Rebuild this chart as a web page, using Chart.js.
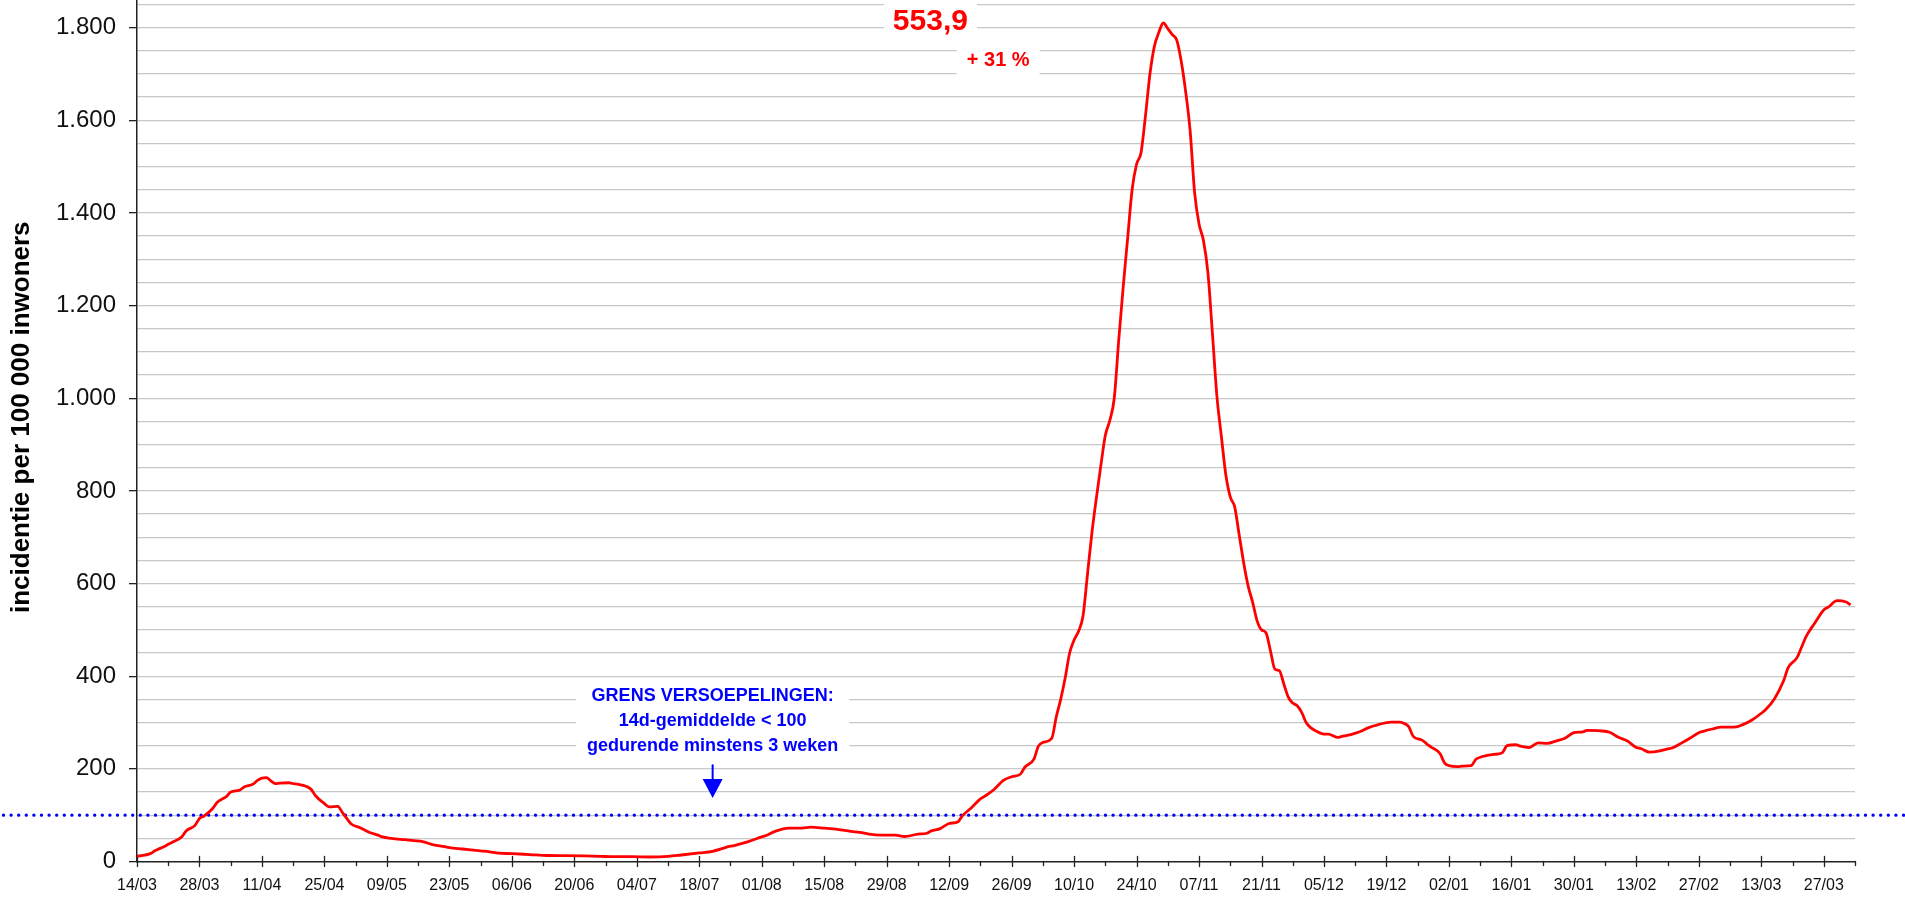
<!DOCTYPE html>
<html>
<head>
<meta charset="utf-8">
<script src="https://cdn.jsdelivr.net/npm/chart.js@4/dist/chart.umd.min.js"></script>
<style>
  html, body { margin: 0; padding: 0; background: #fff; overflow: hidden; }
  #wrap { position: absolute; left: 0; top: -30px; width: 1905px; height: 928px; }
</style>
</head>
<body>
<div id="wrap"><canvas id="incidenceChart"></canvas></div>
<script>
// days since 14/03/2020 and the 14-day incidence per 100 000 read at those days
const days = [0, 3, 4, 6, 7, 8, 10, 11, 13, 14, 15, 17, 18, 20, 21, 23, 24, 26, 27, 28, 29, 30, 31, 32, 34, 35, 36, 38, 39, 40,
    42, 43, 45, 46, 47, 48, 50, 52, 54, 55, 57, 60, 62, 64, 66, 69, 70, 73, 77, 79, 81, 84, 88, 92, 96, 100, 104, 107, 111, 115,
    119, 122, 126, 129, 132, 134, 137, 140, 141, 143, 146, 149, 151, 154, 157, 160, 162, 164, 167, 170, 172, 175, 177, 178, 180,
    182, 184, 185, 187, 189, 190, 192, 194, 196, 198, 199, 201, 202, 203, 205, 206, 207, 208, 209, 210, 211, 212, 213, 214, 215,
    216, 217, 218, 219, 220, 221, 222, 223, 224, 225, 226, 227, 228, 229, 230, 231, 232, 233, 234, 235, 236, 237, 238, 239, 240,
    241, 242, 243, 244, 245, 246, 247, 248, 249, 250, 251, 252, 253, 254, 255, 256, 257, 258, 259, 260, 261, 262, 263, 264, 266,
    267, 269, 270, 272, 274, 276, 278, 281, 283, 284, 285, 286, 288, 289, 290, 292, 293, 294, 296, 297, 299, 300, 301, 304, 306,
    307, 309, 310, 312, 314, 316, 318, 320, 322, 324, 325, 328, 330, 332, 334, 336, 337, 339, 341, 343, 344, 346, 348, 350, 351,
    353, 355, 358, 360, 362, 364, 365, 367, 369, 370, 372, 373, 374, 376, 378, 379, 381, 383, 384];
const incidence = [11, 17, 23, 32, 37, 42, 53, 66, 78, 93, 98, 115, 128, 140, 150, 154, 161, 167, 175, 180, 181, 174, 168, 169, 170, 168, 167, 162, 156, 142,
    125, 118, 119, 106, 93, 81, 73, 63, 57, 53, 50, 47, 45, 43, 37, 32, 30, 27, 23, 21, 18, 17, 15, 13, 12.6, 12, 11, 10.4, 10.4, 9.7,
    11, 14, 18.4, 22, 30.6, 35, 43, 53, 56, 65, 72, 72, 74, 72, 69.5, 65, 63, 59, 57, 57, 54, 59, 61, 66, 71,
    82, 86, 99, 116, 135, 141, 155, 174, 183, 189, 204, 221, 249, 257, 266, 312, 350, 396, 450, 478, 497, 530, 620, 710, 785,
    855, 920, 952, 1000, 1125, 1240, 1345, 1450, 1505, 1530, 1610, 1700, 1760, 1790, 1810, 1798, 1785, 1773, 1728, 1662, 1578, 1445, 1376, 1340, 1270,
    1140, 1005, 918, 835, 787, 765, 705, 645, 595, 560, 520, 500, 494, 455, 415, 412, 383, 355, 342, 336, 322, 300, 289, 283, 275,
    275, 268, 270, 274, 280, 289, 295, 301, 301, 298, 291, 270, 262, 254, 247, 233, 213, 207, 205, 206, 207, 220, 225, 231, 235,
    250, 252, 249, 246, 256, 255, 260, 266, 278, 280, 283, 282, 279, 268, 260, 246, 244, 236, 238, 243, 245, 255, 266, 278, 281,
    286, 290, 290, 296, 306, 320, 328, 352, 390, 418, 440, 462, 485, 515, 543, 549, 563, 560, 553.9];

const threshold = 100;
const lastValueText = '553,9';
const weekChangeText = '+ 31 %';
const thresholdNote = ['GRENS VERSOEPELINGEN:', '14d-gemiddelde < 100', 'gedurende minstens 3 weken'];
const yTitle = 'incidentie per 100 000 inwoners';

const startDate = Date.UTC(2020, 2, 14);
const lastDay = 385;
const yMax = 1900;

function two(n) { return String(n).padStart(2, '0'); }
function dayLabel(d) {
    const dt = new Date(startDate + d * 86400000);
    return two(dt.getUTCDate()) + '/' + two(dt.getUTCMonth() + 1);
}
function thousands(v) {
    if (v < 1000) return String(v);
    return Math.floor(v / 1000) + '.' + String(v % 1000).padStart(3, '0');
}

const FONT = '"Liberation Sans", Arial, Helvetica, sans-serif';

// white label boxes, threshold line, arrow, x tick marks and the y title
const extras = {
    id: 'extras',
    beforeDatasetsDraw(chart) {
        const { ctx, scales: { x, y }, chartArea } = chart;
        ctx.save();

        // dotted threshold line across the whole picture
        const ty = y.getPixelForValue(threshold);
        ctx.strokeStyle = '#0000ff';
        ctx.lineWidth = 3.4;
        ctx.lineCap = 'round';
        ctx.setLineDash([0, 7.6]);
        ctx.beginPath();
        ctx.moveTo(3.5, ty);
        ctx.lineTo(chart.width, ty);
        ctx.stroke();
        ctx.setLineDash([]);

        function box(lines, font, color, cx, cy, lineGap, padX, padY) {
            ctx.font = font;
            let w = 0;
            lines.forEach(t => { w = Math.max(w, ctx.measureText(t).width); });
            const h = lineGap * lines.length;
            ctx.fillStyle = '#fff';
            ctx.fillRect(cx - w / 2 - padX, cy - lineGap / 2 - padY, w + 2 * padX, h + 2 * padY);
            ctx.fillStyle = color;
            ctx.textAlign = 'center';
            ctx.textBaseline = 'middle';
            lines.forEach((t, i) => ctx.fillText(t, cx, cy + i * lineGap));
        }

        box([lastValueText], 'bold 30px ' + FONT, '#ff0000',
            x.getPixelForValue(177.8), y.getPixelForValue(1813), 30, 9, 6);
        box([weekChangeText], 'bold 20px ' + FONT, '#ff0000',
            x.getPixelForValue(193), y.getPixelForValue(1730), 24, 10, 8);
        box(thresholdNote, 'bold 18px ' + FONT, '#0000ff',
            x.getPixelForValue(129), y.getPixelForValue(357), 25, 11, 0);

        // arrow pointing down to the threshold
        const ax = x.getPixelForValue(129);
        const aTop = y.getPixelForValue(208);
        const aTip = y.getPixelForValue(137);
        ctx.strokeStyle = '#0000ff';
        ctx.fillStyle = '#0000ff';
        ctx.lineWidth = 2;
        ctx.beginPath();
        ctx.moveTo(ax, aTop);
        ctx.lineTo(ax, aTip - 16);
        ctx.stroke();
        ctx.beginPath();
        ctx.moveTo(ax - 10, aTip - 19);
        ctx.lineTo(ax + 10, aTip - 19);
        ctx.lineTo(ax, aTip);
        ctx.closePath();
        ctx.fill();

        // x tick marks: long every 14 days, short every 7
        const base = chartArea.bottom;
        ctx.strokeStyle = '#222';
        ctx.lineWidth = 1.3;
        for (let d = 0; d <= lastDay; d += 7) {
            const px = Math.round(x.getPixelForValue(d)) + 0.5;
            ctx.beginPath();
            if (d % 14 === 0) {
                ctx.moveTo(px, base - 5);
                ctx.lineTo(px, base + 5);
            } else {
                ctx.moveTo(px, base);
                ctx.lineTo(px, base + 4);
            }
            ctx.stroke();
        }

        // rotated y axis title
        ctx.translate(22, y.getPixelForValue(959));
        ctx.rotate(-Math.PI / 2);
        ctx.font = 'bold 26px ' + FONT;
        ctx.fillStyle = '#000';
        ctx.textAlign = 'center';
        ctx.textBaseline = 'middle';
        ctx.fillText(yTitle, 0, 0);
        ctx.restore();
    }
};

const ctx = document.getElementById('incidenceChart').getContext('2d');
new Chart(ctx, {
    type: 'line',
    data: {
        datasets: [{
            data: days.map((d, i) => ({ x: d, y: incidence[i] })),
            borderColor: '#ff0000',
            borderWidth: 2.8,
            pointRadius: 0,
            cubicInterpolationMode: 'monotone',
            fill: false
        }]
    },
    options: {
        responsive: true,
        maintainAspectRatio: false,
        animation: false,
        layout: { padding: { top: 11.3, right: 50, bottom: 0, left: 0 } },
        plugins: {
            legend: { display: false },
            tooltip: { enabled: false }
        },
        scales: {
            x: {
                type: 'linear',
                min: 0,
                max: lastDay,
                afterBuildTicks: (scale) => {
                    const t = [];
                    for (let d = 0; d <= lastDay; d += 7) t.push({ value: d });
                    scale.ticks = t;
                },
                afterFit: (scale) => {
                    scale.height = 36.5;
                    scale.paddingLeft = 0;
                    scale.paddingRight = 0;
                },
                grid: { display: false, drawTicks: false },
                border: { display: true, color: '#222', width: 1.5 },
                ticks: {
                    autoSkip: false,
                    maxRotation: 0,
                    padding: 14,
                    color: '#111',
                    font: { family: FONT, size: 16 },
                    callback: (v) => (v % 14 === 0 ? dayLabel(v) : '')
                }
            },
            y: {
                min: 0,
                max: yMax,
                afterBuildTicks: (scale) => {
                    const t = [];
                    for (let v = 0; v <= yMax; v += 50) t.push({ value: v });
                    scale.ticks = t;
                },
                afterFit: (scale) => {
                    scale.width = 137;
                    scale.paddingTop = 0;
                    scale.paddingBottom = 0;
                },
                grid: {
                    color: (c) => (c.tick && c.tick.value === 0 ? 'rgba(0,0,0,0)' : '#c8c8c8'),
                    lineWidth: 1.3,
                    tickLength: 8,
                    tickColor: (c) => (c.tick && c.tick.value % 200 === 0 ? '#222' : 'rgba(0,0,0,0)'),
                    tickWidth: 1.3
                },
                border: { display: true, color: '#222', width: 1.5 },
                ticks: {
                    autoSkip: false,
                    padding: 13,
                    color: '#111',
                    font: { family: FONT, size: 24 },
                    callback: (v) => (v % 200 === 0 ? thousands(v) : '')
                }
            }
        }
    },
    plugins: [extras]
});
</script>
</body>
</html>
